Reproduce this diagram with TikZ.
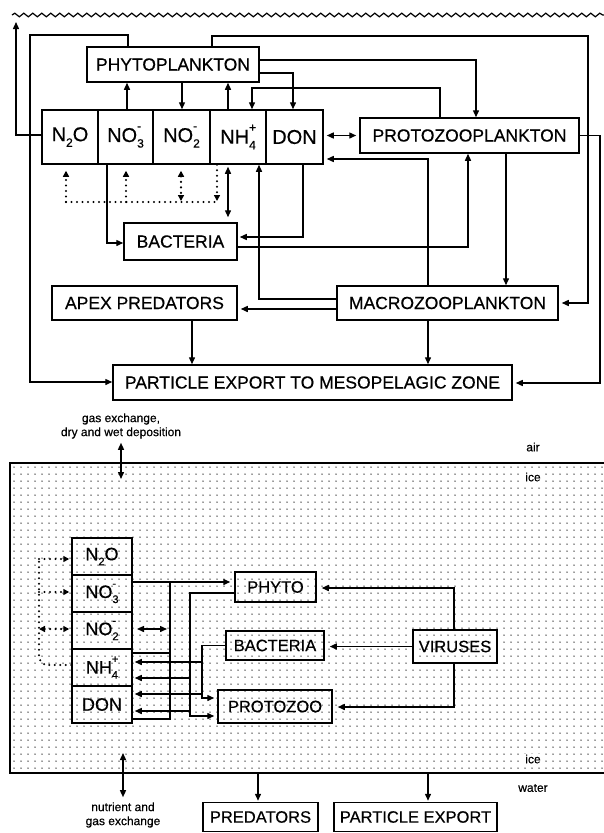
\documentclass[tikz,border=0pt]{standalone}
\usepackage{fontspec}
\setmainfont{Liberation Sans}[BoldFont=Liberation Sans,BoldFeatures={FakeBold=0.5}]
\usetikzlibrary{arrows.meta,decorations.pathmorphing}
\newcommand\supsub[3][11]{\rlap{\raisebox{0.6em}{\fontsize{#1}{#1}\selectfont#2}}\raisebox{-0.28em}{\fontsize{#1}{#1}\selectfont#3}}
\newcommand\subonly[2][11]{\raisebox{-0.28em}{\fontsize{#1}{#1}\selectfont#2}}
\begin{document}
\begin{tikzpicture}[x=1pt,y=-1pt,
  box/.style={draw,line width=1.5pt,inner sep=0pt,font=\fontsize{17.5}{20}\selectfont\bfseries},
  nbox/.style={box,font=\fontsize{20}{22}\selectfont\bfseries,minimum height=54pt},
  lbox/.style={draw,line width=1.5pt,inner sep=0pt,font=\fontsize{16.5}{19}\selectfont\bfseries},
  cbox/.style={lbox,font=\fontsize{18}{20}\selectfont\bfseries,minimum width=60pt,minimum height=37pt},
  ln/.style={line width=1.4pt},
  arr/.style={ln,-{Triangle[length=7pt,width=6pt]}},
  darr/.style={ln,{Triangle[length=7pt,width=6pt]}-{Triangle[length=7pt,width=6pt]}},
  dotl/.style={line width=2.4pt,dash pattern=on 0pt off 5.5pt,line cap=round},
  dtip/.style={-{Triangle[length=6pt,width=6pt]}},
  dtips/.style={{Triangle[length=6pt,width=6pt]}-{Triangle[length=6pt,width=6pt]}},
  dotpat/.style={line width=1.5pt,dash pattern=on 0pt off 7pt,line cap=round,black!80},
  small/.style={font=\fontsize{12}{14}\selectfont\bfseries,align=center,inner sep=0pt},
]
\useasboundingbox (0,0) rectangle (604,833);

% ================= TOP DIAGRAM =================
\draw[line width=1.2pt,decorate,decoration={snake,segment length=9pt,amplitude=1.8pt}] (12,15) -- (604,15);
\coordinate (surf) at (16,22);

\node[box,minimum width=172pt,minimum height=35pt] (phyto) at (173,64.5) {PHYTOPLANKTON};
\node[nbox,minimum width=56pt] (n2o) at (70,137) {N\subonly[12]{2}O};
\node[nbox,minimum width=55pt] (no3) at (125.5,137) {NO\supsub[12]{-}{3}};
\node[nbox,minimum width=57pt] (no2) at (181.5,137) {NO\supsub[12]{-}{2}};
\node[nbox,minimum width=56pt] (nh4) at (238,137) {NH\supsub[12]{+}{4}};
\node[nbox,minimum width=57pt] (don) at (294.5,137) {DON};
\node[box,minimum width=219pt,minimum height=35pt] (proto) at (469.5,135.5) {PROTOZOOPLANKTON};
\node[box,minimum width=113pt,minimum height=37pt] (bact) at (180.5,241.5) {BACTERIA};
\node[box,minimum width=185pt,minimum height=34pt] (apex) at (144.5,303) {APEX PREDATORS};
\node[box,minimum width=221pt,minimum height=34pt] (macro) at (447.5,303) {MACROZOOPLANKTON};
\node[box,minimum width=399pt,minimum height=35pt] (pe) at (312.5,382.5) {PARTICLE EXPORT TO MESOPELAGIC ZONE};

\draw[arr] (n2o.west |- 0,135) -- (16,135) -- (surf);
\draw[arr] (128,0 |- phyto.north) -- (128,35) -- (30,35) -- (30,382) -- (pe.west |- 0,382);
\draw[arr] (212,0 |- phyto.north) -- (212,36) -- (588,36) -- (588,303) -- ([xshift=3pt]macro.east);
\draw[arr] (127,0 |- no3.north) -- (127,0 |- phyto.south);
\draw[arr] (182,0 |- phyto.south) -- (182,0 |- no2.north);
\draw[arr] (228,0 |- nh4.north) -- (228,0 |- phyto.south);
\draw[arr] (440,0 |- proto.north) -- (440,88) -- (252,88) -- (252,0 |- nh4.north);
\draw[arr] (phyto.east |- 0,73) -- (293,73) -- (293,0 |- don.north);
\draw[arr] (phyto.east |- 0,60) -- (476,60) -- (476,0 |- proto.north);
\draw[darr,shorten <=3pt,shorten >=3pt] (don.east |- proto.west) -- (proto.west);
\draw[arr,shorten >=3pt] (428,0 |- macro.north) -- (428,159) -- (don.east |- 0,159);
\draw[arr] (bact.east |- 0,247) -- (468,247) -- (468,0 |- proto.south);
\draw[arr] (506,0 |- proto.south) -- (506,0 |- macro.north);
\draw[arr,shorten >=3pt] (proto.east) -- (600,135.5) -- (600,383) -- (pe.east |- 0,383);
\draw[arr] (macro.west |- 0,299) -- (259,299) -- (259,0 |- nh4.south);
\draw[arr,shorten >=3pt] (macro.west |- 0,309) -- (apex.east |- 0,309);
\draw[arr] (192,0 |- apex.south) -- (192,0 |- pe.north);
\draw[arr] (428,0 |- macro.south) -- (428,0 |- pe.north);
\draw[arr] (107,0 |- no3.south) -- (107,243) -- (bact.west |- 0,243);
\draw[arr,shorten >=2pt] (303,0 |- don.south) -- (303,237) -- (bact.east |- 0,237);
\draw[darr,shorten <=2pt,shorten >=5pt] (228,0 |- nh4.south) -- (228,0 |- bact.north);

% dotted nitrogen transformations
\coordinate (dl) at (66,202);
\coordinate (dr) at (217,202);
\draw[dotl] (dl) -- (dr);
\draw[dotl,dtip,shorten >=6pt] (dl) -- (66,0 |- n2o.south);
\draw[dotl,dtip,shorten >=6pt] (126,202) -- (126,0 |- no3.south);
\draw[dotl,dtips,shorten <=6pt,shorten >=1pt] (181,0 |- no2.south) -- (181,202);
\draw[dotl,dtip,shorten >=1pt] (217,0 |- nh4.south) -- (dr);

% ================= BOTTOM DIAGRAM =================
\foreach \yy in {467,474,...,771} \draw[dotpat] (14,\yy) -- (604,\yy);
\draw[line width=1.4pt] (604,463) -- (10,463) -- (10,773) -- (604,773);

\node[small] (gasTop) at (121,426) {gas exchange,\\dry and wet deposition};
\coordinate (iceIn) at (121,479);
\draw[darr,shorten <=4pt] (gasTop.south) -- (iceIn);
\node[small] (air) at (533,447) {air};
\node[small,fill=white,inner sep=1pt] (iceT) at (533,477) {ice};
\node[small,fill=white,inner sep=1pt] (iceB) at (533,759) {ice};
\node[small] (water) at (533,788) {water};

\node[cbox] (n2oB) at (102,556.5) {N\subonly{2}O};
\node[cbox] (no3B) at (102,593.5) {NO\supsub{-}{3}};
\node[cbox] (no2B) at (102,630.5) {NO\supsub{-}{2}};
\node[cbox] (nh4B) at (102,667.5) {NH\supsub{+}{4}};
\node[cbox] (donB) at (102,704.5) {DON};

\node[lbox,minimum width=81pt,minimum height=30pt] (phytoB) at (275.5,587) {PHYTO};
\node[lbox,minimum width=98pt,minimum height=29pt] (bactB) at (275,645.5) {BACTERIA};
\node[lbox,minimum width=114pt,minimum height=33pt] (protoB) at (275,706.5) {PROTOZOO};
\node[lbox,minimum width=84pt,minimum height=33pt] (virB) at (455,646.5) {VIRUSES};

\node[lbox,minimum width=115pt,minimum height=29pt] (predB) at (260.5,817) {PREDATORS};
\node[lbox,minimum width=163pt,minimum height=29pt] (peB) at (415.5,817) {PARTICLE EXPORT};
\node[small] (nut) at (123,815) {nutrient and\\gas exchange};

% nutrients -> phyto
\draw[arr,shorten >=4pt] (no3B.east |- 0,582) -- (phytoB.west |- 0,582);
\draw[ln] (nh4B.east |- 0,653) -- (170,653);
\draw[ln] (donB.east |- 0,719) -- (170,719) -- (170,582);
\coordinate (xa) at (137,629);
\coordinate (xb) at (167,629);
\draw[darr] (xa) -- (xb);

% bacteria outputs
\draw[arr,shorten >=3pt] (bactB.west) -- (202,645.5) -- (202,698) -- (protoB.west |- 0,698);
\draw[arr,shorten >=2pt] (202,662) -- (nh4B.east |- 0,662);
\draw[arr,shorten >=2pt] (202,694) -- (donB.east |- 0,694);
% phyto outputs
\draw[arr,shorten >=3pt] (phytoB.west |- 0,593) -- (190,593) -- (190,716) -- (protoB.west |- 0,716);
\draw[arr,shorten >=2pt] (190,678) -- (nh4B.east |- 0,678);
\draw[arr,shorten >=2pt] (190,711) -- (donB.east |- 0,711);

% viruses
\draw[arr,shorten >=5pt] (454,0 |- virB.north) -- (454,588) -- (phytoB.east |- 0,588);
\draw[arr,shorten >=5pt] (virB.west) -- (bactB.east |- virB.west);
\draw[arr,shorten >=5pt] (454,0 |- virB.south) -- (454,707) -- (protoB.east |- 0,707);

% dotted loop
\draw[dotl] (nh4B.west |- 0,665) -- (45,665) -- (39,659) -- (39,559);
\draw[dotl,dtip,shorten >=2pt] (39,559) -- (n2oB.west |- 0,559);
\draw[dotl,dtip,shorten >=2pt] (39,592) -- (no3B.west |- 0,592);
\draw[dotl,dtips,shorten >=2pt] (39,629) -- (no2B.west |- 0,629);

% exchange with water
\coordinate (iceOut) at (123,753);
\draw[darr,shorten >=5pt] (iceOut) -- (nut.north);
\draw[arr,shorten >=1pt] (258,773) -- (258,0 |- predB.north);
\draw[arr,shorten >=1pt] (428,773) -- (428,0 |- peB.north);
\end{tikzpicture}
\end{document}
